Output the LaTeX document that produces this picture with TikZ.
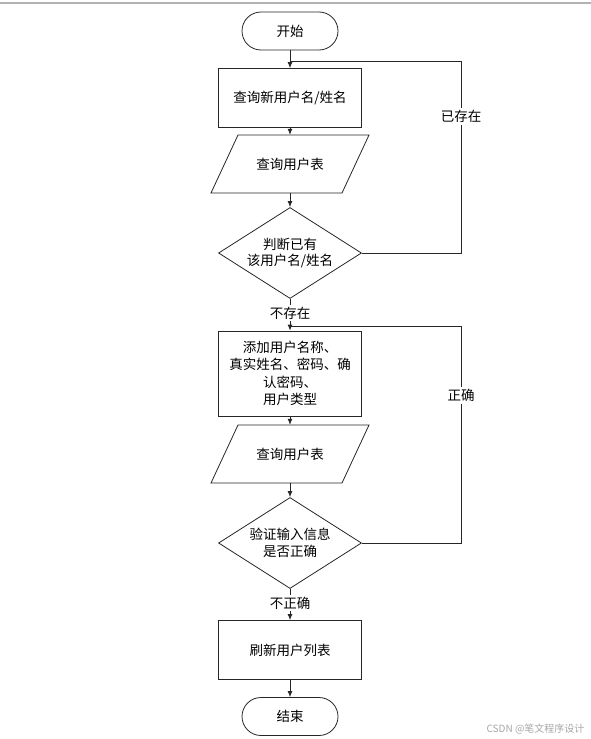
\documentclass[tikz,border=0pt]{standalone}
\usepackage{fontspec}
\newfontfamily\cjk{Noto Sans CJK SC}
\usetikzlibrary{arrows.meta,shapes.geometric}
\begin{document}
\begin{tikzpicture}[x=1pt,y=-1pt,
  every node/.style={font=\cjk\fontsize{13.5}{17.5}\selectfont, text=black},
  line/.style={draw=black!85, line width=0.8pt},
  arr/.style={line, -{Latex[length=6pt,width=5pt]}},
  term/.style={line, rectangle, rounded corners=19pt, minimum width=96pt, minimum height=38pt, inner sep=0pt},
  proc/.style={line, rectangle, minimum width=143pt, minimum height=59pt, inner sep=0pt, align=center},
  io/.style={rectangle, minimum width=131pt, minimum height=58pt, inner sep=0pt},
  dec/.style={line, diamond, aspect=1.57, minimum width=143pt, minimum height=91pt, inner sep=0pt, align=center},
  lbl/.style={fill=white, inner sep=2pt}
]
\useasboundingbox (0,0) rectangle (591,739);
\draw[draw=black!30, line width=2pt] (0,2.5) -- (591,2.5);

\node[term] (start) at (290,31) {开始};
\node[proc] (r1) at (290,98) {查询新用户名/姓名};
\node[io] (p1) at (290,164) {查询用户表};
\draw[line] (p1.center) ++(-52,-29) -- ++(131,0) -- ++(-27,58) -- ++(-131,0) -- cycle;
\node[dec] (d1) at (290,253) {};
\node (d1t) at (290,253) {\shortstack{判断已有\\[1pt]该用户名/姓名}};
\node[proc, minimum height=85pt] (r2) at (290,373.5) {添加用户名称、\\真实姓名、密码、确\\认密码、\\用户类型};
\node[io] (p2) at (290,454) {查询用户表};
\draw[line] (p2.center) ++(-52,-29) -- ++(131,0) -- ++(-27,58) -- ++(-131,0) -- cycle;
\node[dec] (d2) at (290,543) {};
\node (d2t) at (290,543) {\shortstack{验证输入信息\\[1pt]是否正确}};
\node[proc] (r3) at (290,650) {刷新用户列表};
\node[term] (end) at (290,716.5) {结束};

\coordinate (j1) at (290,61);
\coordinate (j2) at (290,326);
\coordinate (k1) at (461,253);
\coordinate (k2) at (461,543);

\draw[arr] (start) -- (r1);
\draw[arr] (r1) -- (p1);
\draw[arr] (p1) -- (d1);
\draw[arr] (d1) -- node[lbl, pos=0.45] (l1) {不存在} (r2);
\draw[arr] (r2) -- (p2);
\draw[arr] (p2) -- (d2);
\draw[arr] (d2) -- node[lbl, pos=0.45] (l2) {不正确} (r3);
\draw[arr] (r3) -- (end);

\draw[line] (d1.east) -- (k1) -- node[lbl, pos=0.71] (l3) {已存在} (k1 |- j1) -- (j1);
\draw[line] (d2.east) -- (k2) -- node[lbl, pos=0.68] (l4) {正确} (k2 |- j2) -- (j2);

\node[font=\cjk\fontsize{10}{11}\selectfont, text=black!35, anchor=east] (wm) at (588,729) {CSDN @笔文程序设计};
\end{tikzpicture}
\end{document}
